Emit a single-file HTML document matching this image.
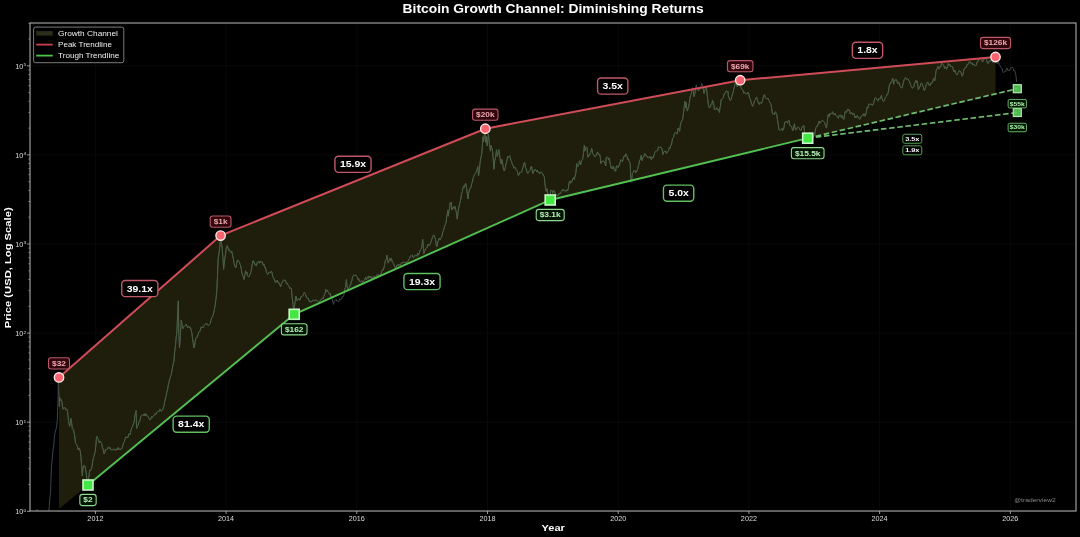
<!DOCTYPE html>
<html><head><meta charset="utf-8"><style>
html,body{margin:0;padding:0;background:#000;}
body{width:1080px;height:537px;overflow:hidden;}
svg{display:block;font-family:"Liberation Sans", sans-serif;filter:blur(0.45px);}
</style></head><body>
<svg width="1080" height="537" viewBox="0 0 1080 537">
<rect width="1080" height="537" fill="#000"/>
<line x1="95.4" y1="23" x2="95.4" y2="511" stroke="#0b0b0b" stroke-width="0.8"/>
<line x1="226.1" y1="23" x2="226.1" y2="511" stroke="#0b0b0b" stroke-width="0.8"/>
<line x1="356.8" y1="23" x2="356.8" y2="511" stroke="#0b0b0b" stroke-width="0.8"/>
<line x1="487.5" y1="23" x2="487.5" y2="511" stroke="#0b0b0b" stroke-width="0.8"/>
<line x1="618.2" y1="23" x2="618.2" y2="511" stroke="#0b0b0b" stroke-width="0.8"/>
<line x1="748.9" y1="23" x2="748.9" y2="511" stroke="#0b0b0b" stroke-width="0.8"/>
<line x1="879.6" y1="23" x2="879.6" y2="511" stroke="#0b0b0b" stroke-width="0.8"/>
<line x1="1010.3" y1="23" x2="1010.3" y2="511" stroke="#0b0b0b" stroke-width="0.8"/>
<line x1="30" y1="511.3" x2="1076" y2="511.3" stroke="#0b0b0b" stroke-width="0.8"/>
<line x1="30" y1="422.2" x2="1076" y2="422.2" stroke="#0b0b0b" stroke-width="0.8"/>
<line x1="30" y1="333.1" x2="1076" y2="333.1" stroke="#0b0b0b" stroke-width="0.8"/>
<line x1="30" y1="244.0" x2="1076" y2="244.0" stroke="#0b0b0b" stroke-width="0.8"/>
<line x1="30" y1="154.9" x2="1076" y2="154.9" stroke="#0b0b0b" stroke-width="0.8"/>
<line x1="30" y1="65.8" x2="1076" y2="65.8" stroke="#0b0b0b" stroke-width="0.8"/>
<defs><clipPath id="ax"><rect x="30" y="23" width="1046" height="488"/></clipPath></defs>
<g clip-path="url(#ax)">
<clipPath id="fc"><polygon points="59.0,377.4 220.6,235.6 485.3,128.7 740.2,80.2 995.5,57.0 995.5,93.8 807.7,138.2 550.2,200.0 294.2,314.3 88.0,485.0 59.0,509.0"/></clipPath>
<polygon points="59.0,377.4 220.6,235.6 485.3,128.7 740.2,80.2 995.5,57.0 995.5,93.8 807.7,138.2 550.2,200.0 294.2,314.3 88.0,485.0 59.0,509.0" fill="#1f1e0d"/>
<polyline points="35.6,515.4 36.4,511.8 37.2,509.4 37.8,510.9 38.4,515.4 39.0,517.6 39.8,515.3 40.6,516.2 41.3,515.4 42.0,515.8 42.8,515.6 43.5,518.1 44.2,517.4 44.9,519.9 45.6,520.0 46.2,520.0 46.9,520.0 47.5,518.3 48.1,515.3 48.7,511.3 49.3,506.4 49.9,497.8 50.5,493.1 51.0,478.7 51.5,466.3 52.3,458.1 53.1,449.0 53.7,445.4 54.3,438.8 54.9,433.3 55.6,430.5 56.2,428.5 56.7,426.1 57.3,420.3 58.0,399.5 58.3,380.2 58.7,391.7 59.1,406.5 59.6,397.4 60.5,400.5 61.2,399.6 61.9,401.9 62.5,406.8 63.2,409.2 63.8,407.7 64.4,407.8 65.1,407.6 65.9,410.0 66.6,408.9 67.3,410.6 68.0,415.7 68.7,422.2 69.6,426.3 70.2,423.5 70.9,418.5 71.6,422.4 72.3,428.5 72.9,429.5 73.6,429.9 74.1,432.9 74.6,434.9 75.5,443.3 76.2,443.8 77.0,445.3 77.6,447.7 78.2,449.8 78.9,447.8 79.6,449.0 80.3,451.3 80.9,456.7 81.6,465.2 82.3,475.8 83.2,466.3 83.9,466.3 84.5,465.1 85.1,467.3 85.7,470.1 86.3,473.9 86.9,479.4 87.5,483.5 88.1,480.3 88.8,477.4 89.3,473.0 89.8,470.1 90.7,470.5 91.5,468.8 92.1,466.1 92.7,461.1 93.3,458.6 93.9,456.5 94.6,453.9 95.2,451.4 95.9,445.1 96.6,436.0 97.3,438.3 97.9,438.9 98.5,439.1 99.1,442.7 99.7,442.0 100.3,441.0 101.0,442.5 101.6,443.3 102.4,447.8 103.2,449.2 104.0,454.0 104.7,452.5 105.4,449.5 106.1,449.8 106.7,449.6 107.4,449.2 108.0,447.8 108.6,446.8 109.4,448.9 110.1,447.6 110.9,449.7 111.6,449.8 112.3,449.9 112.9,449.7 113.5,449.1 114.1,449.0 114.9,450.2 115.6,450.6 116.3,448.9 117.0,449.0 117.6,449.6 118.3,447.4 118.9,449.7 119.5,449.0 120.3,449.0 121.0,449.7 121.8,448.5 122.5,446.8 123.2,444.0 123.8,442.4 124.4,441.5 125.0,438.9 125.8,436.9 126.5,438.1 127.2,436.8 127.9,437.7 128.5,435.1 129.1,433.7 129.8,435.0 130.4,432.8 131.2,429.3 131.9,427.6 132.7,426.0 133.4,424.2 134.1,422.1 134.8,415.9 135.4,413.8 136.1,410.6 136.6,428.5 137.4,426.3 138.2,425.2 139.0,421.4 139.6,421.2 140.2,419.9 140.8,416.4 141.5,415.8 142.2,415.0 142.9,414.3 143.6,415.7 144.3,413.9 144.9,416.0 145.6,413.6 146.2,414.1 146.8,415.8 147.6,415.9 148.3,416.9 149.1,418.9 149.9,419.9 150.5,419.7 151.1,418.0 151.7,416.6 152.4,417.8 153.1,416.5 153.8,415.2 154.5,414.9 155.2,413.6 155.8,414.6 156.5,413.1 157.1,411.8 157.7,411.2 158.5,411.4 159.2,411.5 160.0,409.1 160.8,410.6 161.4,411.3 162.0,410.2 162.6,409.9 163.3,407.8 164.0,405.8 164.8,401.2 165.5,398.1 166.3,395.4 166.9,391.0 167.6,390.1 168.2,385.1 168.8,383.8 169.4,380.0 170.1,378.3 170.7,375.9 171.3,374.8 171.9,371.1 172.6,367.0 173.2,363.6 173.8,362.3 174.4,355.0 175.0,348.8 175.6,344.2 176.2,337.4 176.9,331.6 177.6,314.5 178.3,300.9 178.8,333.1 179.5,348.0 180.4,335.4 181.2,320.1 181.8,323.4 182.4,324.6 183.0,328.7 183.6,327.0 184.3,326.5 185.0,325.7 185.6,325.4 186.4,324.2 187.1,327.0 187.8,327.7 188.5,326.0 189.2,326.9 189.8,328.0 190.5,327.6 191.2,330.1 191.9,333.2 192.5,338.5 193.2,342.7 193.9,348.0 194.5,346.5 195.2,341.4 195.9,338.2 196.6,337.2 197.3,337.5 198.0,334.7 198.7,332.0 199.4,332.0 200.1,330.8 200.8,327.6 201.4,328.1 202.1,326.7 202.8,327.8 203.5,326.7 204.3,325.5 205.0,324.2 205.6,323.5 206.3,324.0 207.0,323.4 207.7,324.8 208.3,325.7 209.0,324.7 209.6,324.5 210.3,323.7 210.9,320.3 211.5,318.2 212.1,317.4 212.9,315.5 213.7,313.0 214.4,309.5 215.2,305.1 216.0,299.0 216.8,290.6 217.5,275.3 218.2,257.8 218.9,254.1 219.7,247.2 220.4,238.6 221.3,242.1 222.2,248.1 222.9,257.7 223.6,269.3 224.2,264.2 224.8,258.9 225.5,254.1 226.2,248.6 226.8,246.0 227.4,245.7 228.0,248.1 228.6,250.3 229.4,249.7 230.1,251.4 230.9,252.6 231.7,251.2 232.5,254.9 233.3,258.9 233.9,262.7 234.6,265.1 235.3,267.3 235.9,267.8 236.7,263.5 237.4,260.1 238.1,260.2 238.7,261.3 239.4,262.2 240.1,264.4 240.7,265.9 241.4,269.9 242.0,273.4 242.7,275.7 243.3,276.9 244.0,279.5 244.8,275.7 245.6,270.8 246.3,273.4 247.0,272.2 247.6,275.8 248.3,276.7 249.0,276.9 249.6,275.1 250.3,273.8 251.0,271.6 251.7,267.9 252.4,263.2 253.1,260.7 253.8,262.8 254.4,262.3 255.0,265.1 255.6,265.1 256.4,265.8 257.1,262.8 257.8,261.9 258.5,261.3 259.1,263.2 259.8,262.7 260.4,261.0 261.0,262.5 261.8,261.6 262.5,262.2 263.3,265.4 264.1,264.4 264.8,267.7 265.6,267.5 266.3,272.2 267.1,273.2 267.7,274.7 268.4,273.4 269.0,272.1 269.6,272.4 270.2,272.8 270.9,271.5 271.5,271.3 272.1,273.2 272.8,277.0 273.5,277.9 274.3,279.5 275.0,281.4 275.6,282.8 276.2,280.7 276.9,282.0 277.5,280.4 278.2,283.2 279.0,282.6 279.8,284.4 280.5,286.9 281.2,284.5 281.8,282.7 282.4,282.4 283.0,280.4 283.8,279.8 284.5,280.6 285.2,279.9 285.9,281.4 286.5,284.0 287.2,283.1 287.8,284.5 288.4,285.7 289.2,286.8 289.9,288.7 290.7,287.7 291.4,288.7 292.2,298.0 293.0,304.3 293.8,312.1 294.4,306.9 295.1,301.5 295.7,296.1 296.4,296.8 297.0,300.9 297.6,300.4 298.3,299.3 298.9,298.5 299.5,300.0 300.1,300.1 300.8,296.9 301.4,297.0 302.0,296.1 302.6,296.0 303.3,294.6 303.9,292.8 304.5,292.6 305.3,294.1 306.0,295.7 306.8,298.0 307.6,298.4 308.2,298.0 308.8,300.5 309.4,300.4 310.1,302.2 310.8,300.9 311.5,302.1 312.2,300.6 312.9,300.0 313.6,300.2 314.2,300.8 314.8,301.3 315.4,299.7 316.2,300.0 317.0,301.1 317.7,301.2 318.5,301.7 319.1,301.3 319.7,301.5 320.4,300.2 321.0,299.9 321.7,299.1 322.4,297.9 323.1,298.7 323.9,296.1 324.5,294.6 325.2,292.9 325.8,289.3 326.6,291.8 327.4,290.2 328.2,291.9 328.8,292.6 329.5,294.4 330.1,293.3 330.8,296.7 331.5,296.4 332.2,298.6 332.8,302.0 333.5,304.4 334.2,301.1 335.0,300.9 335.6,299.9 336.2,299.3 336.8,301.5 337.5,300.9 338.2,301.6 338.9,301.7 339.6,298.8 340.3,299.7 341.0,299.8 341.6,298.9 342.2,296.3 342.8,296.9 343.5,295.9 344.2,293.9 344.8,288.8 345.5,287.5 346.4,279.5 347.0,286.0 347.7,289.3 348.5,288.0 349.3,287.5 349.9,285.4 350.6,285.2 351.2,281.4 351.9,281.0 352.5,277.0 353.1,276.3 353.8,274.9 354.5,275.4 355.3,275.2 356.0,275.1 356.8,276.7 357.4,277.2 358.0,279.8 358.7,278.5 359.3,281.4 360.1,281.9 360.8,281.7 361.6,280.5 362.3,282.5 363.0,281.1 363.6,281.4 364.2,280.3 364.8,279.5 365.5,277.2 366.2,279.8 366.8,278.4 367.5,276.7 368.1,278.7 368.8,275.9 369.4,276.8 370.0,278.0 370.8,276.3 371.5,278.8 372.3,276.9 373.0,277.6 373.7,276.0 374.3,276.8 374.9,278.4 375.5,276.7 376.3,277.4 377.0,274.9 377.7,274.1 378.4,274.9 379.0,276.3 379.7,274.9 380.3,275.3 380.9,274.5 381.7,271.3 382.4,269.6 383.2,270.2 383.9,267.8 384.7,264.4 385.5,259.9 386.2,259.9 387.0,255.1 387.5,259.6 388.0,263.1 388.7,262.4 389.3,259.5 389.9,258.1 390.5,260.9 391.2,258.2 391.8,259.8 392.4,262.6 393.1,262.6 393.7,263.6 394.4,265.9 395.0,267.1 395.8,268.2 396.6,265.4 397.3,265.8 398.1,264.3 398.8,265.7 399.6,264.6 400.4,265.4 401.0,263.4 401.6,263.1 402.2,262.1 402.9,263.1 403.6,262.0 404.3,262.3 405.0,262.2 405.7,262.8 406.3,263.4 407.0,261.3 407.6,261.7 408.2,261.3 409.0,258.8 409.7,258.2 410.5,255.7 411.3,256.2 411.9,255.5 412.5,255.0 413.1,257.8 413.8,257.3 414.5,256.9 415.2,255.1 415.9,255.6 416.6,255.1 417.2,256.3 417.9,253.0 418.5,255.1 419.1,253.6 419.8,251.4 420.5,249.6 421.3,248.8 422.0,245.6 422.7,239.3 423.3,246.1 423.9,253.6 424.7,251.1 425.6,248.5 426.3,247.9 427.0,247.8 427.7,244.8 428.3,244.0 429.0,245.6 429.6,244.9 430.2,244.0 430.8,242.7 431.5,240.1 432.1,238.2 432.7,236.9 433.5,234.9 434.3,236.0 435.0,237.4 435.6,239.9 436.2,245.0 436.8,246.8 437.5,243.0 438.3,241.0 438.9,239.0 439.5,238.0 440.1,239.9 440.8,237.9 441.5,237.4 442.2,234.8 442.9,231.5 443.6,230.4 444.3,227.5 444.9,225.6 445.5,224.2 446.1,222.3 446.7,217.0 447.3,214.0 447.9,210.1 448.3,216.2 448.9,210.9 449.5,208.9 450.1,202.8 450.6,204.2 451.2,202.1 451.7,210.1 452.3,209.3 452.9,207.1 453.5,207.0 454.1,208.7 454.7,206.3 455.3,207.0 455.9,210.6 456.6,213.3 457.2,219.2 458.0,212.7 458.9,207.0 459.5,204.3 460.2,201.7 460.8,199.0 461.5,194.1 462.3,191.4 463.0,187.6 463.7,185.8 464.4,187.6 465.0,184.6 465.7,183.3 466.4,187.1 467.2,193.4 468.0,199.0 468.5,193.5 469.1,191.3 469.7,188.4 470.4,188.1 471.0,187.6 471.7,183.7 472.3,182.0 473.0,178.7 473.7,176.8 474.4,174.7 475.1,174.1 475.9,172.4 476.6,170.4 477.2,169.3 477.8,166.6 478.5,176.0 479.3,170.9 480.0,163.1 480.7,158.8 481.4,155.3 481.9,151.9 482.5,143.7 483.0,136.7 483.6,141.9 484.2,137.2 484.8,129.1 485.7,142.4 486.4,136.7 487.1,146.0 487.8,138.8 488.4,134.1 489.1,140.5 489.7,146.7 490.4,151.2 490.9,145.3 491.6,147.6 492.3,148.8 493.1,157.4 493.9,169.3 494.7,161.2 495.3,158.6 495.9,155.0 496.5,149.8 497.3,156.5 498.1,153.4 498.8,149.5 499.6,155.2 500.3,160.3 501.1,164.0 501.8,159.4 502.4,161.6 503.0,166.4 503.6,169.8 504.5,171.0 505.3,167.3 506.1,163.5 506.9,161.2 507.7,156.5 508.4,157.3 509.0,157.1 509.7,155.7 510.3,157.8 510.9,160.8 511.5,161.2 512.1,163.6 512.7,165.4 513.4,165.4 514.0,168.2 514.7,167.0 515.4,167.9 516.1,169.8 516.8,170.7 517.4,171.1 518.0,175.2 518.7,175.3 519.3,174.0 519.9,172.2 520.7,172.6 521.5,172.2 522.2,170.2 522.9,168.0 523.5,164.9 524.2,162.6 524.9,162.8 525.5,167.7 526.2,168.7 527.0,171.9 527.8,173.4 528.4,172.4 529.1,171.5 529.8,170.4 530.4,169.7 531.1,166.3 531.7,166.6 532.6,173.4 533.3,173.2 533.9,170.5 534.6,170.4 535.2,169.1 535.8,169.9 536.4,171.0 537.0,172.1 537.6,170.5 538.3,172.7 538.9,172.2 539.6,174.0 540.4,172.3 541.2,172.0 541.9,172.5 542.7,173.8 543.5,175.9 544.3,176.7 544.8,182.6 545.3,186.7 546.2,191.3 546.9,188.5 547.7,193.0 548.4,196.6 549.1,198.3 549.8,199.0 550.7,190.4 551.4,190.4 552.0,190.3 552.7,193.4 553.4,190.6 554.1,190.4 554.7,191.5 555.4,194.4 556.0,195.7 556.6,194.6 557.2,195.9 557.9,196.1 558.5,193.8 559.1,193.4 559.7,194.4 560.4,192.3 561.1,192.5 561.8,191.4 562.5,189.4 563.1,190.5 563.8,189.6 564.4,190.9 565.0,191.3 565.7,191.1 566.4,191.0 567.0,189.6 567.7,190.8 568.4,188.1 569.1,182.5 569.9,180.9 570.7,183.2 571.5,181.0 572.2,181.4 572.9,178.7 573.6,177.4 574.3,179.5 575.1,176.0 575.9,172.8 576.7,163.5 577.2,167.1 578.0,166.1 578.8,164.5 579.5,160.7 580.1,162.7 580.6,165.0 581.2,162.3 581.8,160.2 582.4,159.4 583.0,157.4 583.6,152.3 584.4,145.0 584.7,151.2 585.6,148.2 586.2,146.8 586.9,147.5 587.4,152.7 587.9,157.3 588.7,155.0 589.6,155.3 590.2,153.1 590.9,152.4 591.5,148.5 592.1,149.2 592.7,153.7 593.3,154.5 594.1,155.1 594.9,157.0 595.6,156.1 596.4,155.1 597.1,152.6 597.7,152.1 598.4,155.0 599.1,154.0 599.8,154.5 600.3,157.3 600.8,163.5 601.5,161.0 602.1,162.1 602.7,161.3 603.3,160.7 604.1,161.8 604.9,163.0 605.7,166.0 606.2,157.7 606.8,157.1 607.4,157.0 608.0,157.7 608.6,160.1 609.2,158.2 609.8,161.2 610.4,164.6 611.0,167.4 611.6,168.7 612.2,166.6 612.8,168.8 613.4,166.6 614.1,168.8 614.9,170.9 615.7,171.0 616.4,166.0 617.0,165.8 617.6,166.6 618.2,167.6 618.8,165.3 619.4,165.5 620.1,162.1 620.7,159.8 621.3,159.9 621.9,160.8 622.5,161.6 623.1,159.3 623.8,156.9 624.4,155.5 625.1,156.5 625.7,153.8 626.4,154.3 627.1,156.5 627.7,159.6 628.3,158.7 628.9,161.2 629.5,161.5 630.2,163.5 630.9,182.5 631.6,181.7 632.3,173.4 633.0,172.6 633.7,170.7 634.4,171.0 635.1,170.5 635.7,172.6 636.3,172.4 636.9,171.0 637.6,169.4 638.3,166.1 639.0,164.4 639.6,160.3 640.3,159.4 641.1,155.3 641.8,160.7 642.5,159.0 643.2,156.9 643.9,156.8 644.6,153.4 645.3,154.1 646.0,155.8 646.6,155.5 647.2,157.4 647.8,157.3 648.6,158.0 649.3,156.9 650.0,156.3 650.7,158.1 651.3,159.7 651.9,156.8 652.6,158.0 653.2,158.1 654.0,155.3 654.7,152.8 655.5,151.2 656.4,150.9 657.1,150.7 657.7,150.6 658.4,147.0 659.1,146.9 659.8,147.8 660.4,146.8 661.1,148.1 661.8,148.2 662.4,151.0 663.0,154.5 663.7,152.3 664.4,151.3 665.2,151.6 665.8,150.9 666.5,153.7 667.1,152.6 667.9,151.4 668.7,150.2 669.4,147.6 670.0,148.4 670.7,145.3 671.4,145.2 672.0,141.3 672.7,138.3 673.4,137.7 674.1,134.9 674.9,132.8 675.7,132.6 676.4,132.8 677.1,134.1 677.8,128.7 678.4,128.1 679.0,129.6 679.6,131.5 680.2,126.2 680.9,122.7 681.6,121.5 682.3,119.9 682.8,118.2 683.4,113.7 684.1,108.4 684.8,101.3 685.5,107.5 685.9,102.2 686.6,106.4 687.3,111.1 687.9,109.0 688.6,107.5 689.2,103.7 689.8,99.3 690.4,95.8 691.1,94.6 691.9,90.5 692.7,87.6 693.3,90.5 693.9,96.7 694.8,94.2 695.5,88.8 696.3,84.9 697.0,88.7 697.7,87.7 698.4,91.1 699.1,89.7 699.7,88.8 700.4,86.9 701.1,86.4 701.8,83.4 702.5,85.7 703.2,89.2 704.0,93.4 704.7,90.3 705.5,88.7 706.3,86.9 707.0,92.6 707.6,98.3 708.3,104.3 709.0,107.5 709.8,107.8 710.6,104.8 711.2,105.2 711.8,104.4 712.5,100.4 713.1,101.3 713.7,103.6 714.3,109.3 715.1,109.5 715.9,109.6 716.7,107.5 717.3,108.7 718.0,110.3 718.7,109.4 719.4,112.4 720.0,107.7 720.6,105.2 721.1,99.4 721.8,99.5 722.5,98.5 723.2,97.8 723.8,95.0 724.6,93.1 725.4,93.0 726.1,91.1 726.7,90.8 727.3,91.7 728.0,91.1 728.3,95.8 729.1,98.0 729.9,100.4 730.6,100.3 731.2,99.1 731.8,96.8 732.4,94.2 733.1,92.8 733.7,89.3 734.3,87.2 734.9,84.6 735.8,81.9 736.5,82.7 737.1,86.9 737.8,85.9 738.5,82.0 739.2,81.0 739.6,80.7 740.3,85.6 741.0,87.6 741.7,89.1 742.5,89.6 743.2,90.8 743.9,93.4 744.5,92.2 745.2,92.8 745.9,93.8 746.6,93.8 747.3,93.5 748.0,92.2 748.8,94.0 749.6,98.5 750.4,98.9 751.1,102.5 751.9,104.7 752.7,106.4 753.2,104.6 753.7,103.5 754.5,100.6 755.3,99.9 756.1,97.6 756.7,97.2 757.3,99.7 757.9,101.7 758.6,103.2 759.4,104.4 760.2,102.2 760.8,102.8 761.4,103.6 762.0,102.2 762.6,100.2 763.2,97.5 763.8,95.6 764.5,94.6 765.2,97.6 765.9,98.1 766.6,98.7 767.3,98.6 768.0,98.1 768.6,100.3 769.3,100.9 769.9,102.8 770.5,103.2 771.1,104.8 771.7,108.4 772.4,113.7 773.1,114.3 773.8,113.7 774.5,114.8 775.2,111.8 775.9,112.4 776.7,114.4 777.4,119.2 778.1,123.5 779.0,130.1 779.8,129.6 780.5,130.3 781.3,129.5 782.0,128.4 782.7,130.5 783.5,129.5 784.1,126.8 784.7,122.3 785.4,122.3 786.1,121.2 786.9,122.2 787.6,123.3 788.4,120.4 789.2,120.5 789.7,124.4 790.3,126.0 791.0,126.2 791.8,127.2 792.5,130.3 793.3,130.5 793.8,126.3 794.4,123.7 795.1,128.5 795.8,130.1 796.5,129.4 797.2,127.7 797.8,127.1 798.5,127.5 799.2,127.8 799.8,129.3 800.5,130.9 801.2,129.9 802.0,126.9 802.8,126.6 803.4,125.7 804.0,125.6 804.8,137.0 805.5,136.0 806.2,138.8 806.9,137.2 807.5,135.0 808.1,133.7 808.7,134.4 809.3,132.6 810.0,133.5 810.6,135.1 811.2,133.5 811.9,135.3 812.6,135.3 813.4,136.7 814.1,135.4 814.7,134.7 815.3,130.2 816.0,127.4 816.6,126.2 817.2,126.6 817.9,124.7 818.5,122.7 819.2,121.0 819.9,123.3 820.5,122.7 821.2,121.4 821.8,120.6 822.5,120.2 823.1,120.9 823.8,121.7 824.5,122.4 825.1,124.7 825.8,126.2 826.4,128.1 827.1,123.6 827.9,115.8 828.5,114.1 829.1,116.7 829.7,113.7 830.4,114.4 831.1,113.0 831.9,113.8 832.7,111.7 833.2,114.4 833.8,114.8 834.4,114.6 835.1,113.3 835.7,115.1 836.4,115.8 837.0,116.2 837.7,117.5 838.4,118.4 839.1,115.2 839.9,115.2 840.6,115.1 841.3,117.5 842.1,115.5 842.9,118.2 843.8,119.4 844.5,115.1 845.2,111.5 845.9,112.4 846.7,112.1 847.4,109.3 848.1,109.1 848.8,110.6 849.5,110.0 850.2,114.0 851.0,113.4 851.7,112.5 852.4,114.2 853.1,114.7 853.8,113.2 854.4,115.0 855.1,117.9 855.8,116.3 856.5,117.9 857.2,115.5 858.0,117.2 858.8,117.3 859.5,119.4 860.4,118.7 861.2,116.3 861.9,115.4 862.6,115.0 863.3,115.6 863.9,113.5 864.6,115.9 865.2,116.2 865.8,114.4 866.5,111.2 867.2,107.0 868.0,108.0 868.7,104.1 869.4,104.2 870.1,104.6 870.6,104.1 871.2,103.8 872.0,105.3 872.7,105.2 873.5,103.4 874.1,101.1 874.7,98.6 875.3,97.6 875.9,98.1 876.5,99.1 877.1,99.9 877.9,101.2 878.6,98.2 879.4,99.1 880.1,99.0 880.7,97.5 881.4,95.4 882.1,98.7 882.8,100.6 883.5,101.7 884.2,100.8 885.0,98.5 885.7,97.1 886.4,96.4 887.1,94.2 887.8,93.9 888.5,91.1 889.2,86.0 890.0,84.0 890.5,82.5 891.0,83.2 891.8,81.5 892.6,78.0 893.2,80.2 893.7,84.3 894.3,80.4 895.0,79.6 895.8,80.2 896.6,79.7 897.3,82.7 898.0,83.7 898.6,82.4 899.2,82.5 899.9,85.9 900.6,87.2 901.2,87.6 902.0,88.0 902.8,84.9 903.5,82.1 904.1,79.5 904.8,79.1 905.5,77.5 906.3,78.9 907.1,79.6 907.8,78.8 908.6,80.2 909.3,81.1 910.1,83.4 910.8,85.4 911.5,86.8 912.2,87.9 912.8,88.2 913.4,87.4 914.0,86.0 914.6,83.1 915.2,83.1 915.8,80.5 916.5,82.5 917.1,80.7 917.7,84.4 918.3,89.6 919.0,88.6 919.6,86.6 920.3,86.6 920.9,83.3 921.6,83.1 922.2,84.0 922.8,85.8 923.4,87.3 924.1,90.4 924.7,90.1 925.4,87.4 926.0,85.6 926.6,83.7 927.2,82.7 927.8,81.9 928.6,84.9 929.4,84.4 930.1,85.6 930.8,83.2 931.5,83.9 932.2,81.9 932.8,81.7 933.5,78.5 934.1,78.2 934.8,80.7 935.5,75.2 936.2,69.9 937.0,69.2 937.8,66.2 938.5,69.1 939.3,68.9 940.1,66.3 940.8,66.9 941.6,62.8 942.3,63.5 943.0,64.6 943.8,65.7 944.6,68.9 945.3,66.8 946.0,67.0 946.6,69.2 947.1,68.0 947.7,66.1 948.4,63.5 949.0,65.6 949.7,64.1 950.3,65.0 950.9,66.9 951.5,66.0 952.1,66.8 952.8,67.1 953.4,70.1 954.0,71.8 954.7,70.0 955.3,72.5 955.9,73.7 956.5,74.6 957.1,74.9 957.8,72.9 958.5,72.5 959.1,70.7 959.8,71.0 960.4,71.2 961.1,72.7 961.7,75.2 962.3,76.2 962.9,74.8 963.6,71.3 964.2,68.7 964.8,68.6 965.6,67.0 966.3,67.3 967.1,64.5 967.9,64.7 968.6,63.0 969.4,61.7 970.2,61.8 970.8,63.7 971.4,63.7 972.1,62.8 972.7,65.2 973.5,63.9 974.2,65.1 975.0,65.8 975.7,65.8 976.3,65.2 976.9,62.2 977.5,62.5 978.3,59.8 979.0,60.3 979.7,58.1 980.4,58.4 981.0,58.5 981.7,59.2 982.4,62.1 983.1,61.1 983.8,59.3 984.5,59.1 985.2,57.8 985.9,58.3 986.5,59.5 987.2,62.1 987.8,63.6 988.5,62.8 989.2,61.6 990.0,60.2 990.7,61.3 991.5,59.7 992.2,60.0 992.9,62.5 993.5,59.0 994.1,60.5 994.7,57.3 995.4,61.4 996.1,62.1 996.7,63.4 997.3,63.6 997.9,61.2 998.5,60.6 999.2,64.4 999.9,65.4 1000.7,67.1 1001.4,67.8 1002.2,69.0 1003.0,72.5 1003.6,72.4 1004.2,72.3 1004.7,71.4 1005.6,71.6 1006.4,68.8 1007.0,67.9 1007.7,70.3 1008.4,70.0 1009.0,71.0 1009.7,70.1 1010.4,68.0 1011.0,68.4 1011.8,67.1 1012.6,67.4 1013.3,68.6 1013.9,71.2 1014.6,70.7 1015.2,71.7 1015.9,75.4 1016.6,81.9" fill="none" stroke="#3e4646" stroke-width="1.0" stroke-linejoin="round"/>
<polyline points="35.6,515.4 36.4,511.8 37.2,509.4 37.8,510.9 38.4,515.4 39.0,517.6 39.8,515.3 40.6,516.2 41.3,515.4 42.0,515.8 42.8,515.6 43.5,518.1 44.2,517.4 44.9,519.9 45.6,520.0 46.2,520.0 46.9,520.0 47.5,518.3 48.1,515.3 48.7,511.3 49.3,506.4 49.9,497.8 50.5,493.1 51.0,478.7 51.5,466.3 52.3,458.1 53.1,449.0 53.7,445.4 54.3,438.8 54.9,433.3 55.6,430.5 56.2,428.5 56.7,426.1 57.3,420.3 58.0,399.5 58.3,380.2 58.7,391.7 59.1,406.5 59.6,397.4 60.5,400.5 61.2,399.6 61.9,401.9 62.5,406.8 63.2,409.2 63.8,407.7 64.4,407.8 65.1,407.6 65.9,410.0 66.6,408.9 67.3,410.6 68.0,415.7 68.7,422.2 69.6,426.3 70.2,423.5 70.9,418.5 71.6,422.4 72.3,428.5 72.9,429.5 73.6,429.9 74.1,432.9 74.6,434.9 75.5,443.3 76.2,443.8 77.0,445.3 77.6,447.7 78.2,449.8 78.9,447.8 79.6,449.0 80.3,451.3 80.9,456.7 81.6,465.2 82.3,475.8 83.2,466.3 83.9,466.3 84.5,465.1 85.1,467.3 85.7,470.1 86.3,473.9 86.9,479.4 87.5,483.5 88.1,480.3 88.8,477.4 89.3,473.0 89.8,470.1 90.7,470.5 91.5,468.8 92.1,466.1 92.7,461.1 93.3,458.6 93.9,456.5 94.6,453.9 95.2,451.4 95.9,445.1 96.6,436.0 97.3,438.3 97.9,438.9 98.5,439.1 99.1,442.7 99.7,442.0 100.3,441.0 101.0,442.5 101.6,443.3 102.4,447.8 103.2,449.2 104.0,454.0 104.7,452.5 105.4,449.5 106.1,449.8 106.7,449.6 107.4,449.2 108.0,447.8 108.6,446.8 109.4,448.9 110.1,447.6 110.9,449.7 111.6,449.8 112.3,449.9 112.9,449.7 113.5,449.1 114.1,449.0 114.9,450.2 115.6,450.6 116.3,448.9 117.0,449.0 117.6,449.6 118.3,447.4 118.9,449.7 119.5,449.0 120.3,449.0 121.0,449.7 121.8,448.5 122.5,446.8 123.2,444.0 123.8,442.4 124.4,441.5 125.0,438.9 125.8,436.9 126.5,438.1 127.2,436.8 127.9,437.7 128.5,435.1 129.1,433.7 129.8,435.0 130.4,432.8 131.2,429.3 131.9,427.6 132.7,426.0 133.4,424.2 134.1,422.1 134.8,415.9 135.4,413.8 136.1,410.6 136.6,428.5 137.4,426.3 138.2,425.2 139.0,421.4 139.6,421.2 140.2,419.9 140.8,416.4 141.5,415.8 142.2,415.0 142.9,414.3 143.6,415.7 144.3,413.9 144.9,416.0 145.6,413.6 146.2,414.1 146.8,415.8 147.6,415.9 148.3,416.9 149.1,418.9 149.9,419.9 150.5,419.7 151.1,418.0 151.7,416.6 152.4,417.8 153.1,416.5 153.8,415.2 154.5,414.9 155.2,413.6 155.8,414.6 156.5,413.1 157.1,411.8 157.7,411.2 158.5,411.4 159.2,411.5 160.0,409.1 160.8,410.6 161.4,411.3 162.0,410.2 162.6,409.9 163.3,407.8 164.0,405.8 164.8,401.2 165.5,398.1 166.3,395.4 166.9,391.0 167.6,390.1 168.2,385.1 168.8,383.8 169.4,380.0 170.1,378.3 170.7,375.9 171.3,374.8 171.9,371.1 172.6,367.0 173.2,363.6 173.8,362.3 174.4,355.0 175.0,348.8 175.6,344.2 176.2,337.4 176.9,331.6 177.6,314.5 178.3,300.9 178.8,333.1 179.5,348.0 180.4,335.4 181.2,320.1 181.8,323.4 182.4,324.6 183.0,328.7 183.6,327.0 184.3,326.5 185.0,325.7 185.6,325.4 186.4,324.2 187.1,327.0 187.8,327.7 188.5,326.0 189.2,326.9 189.8,328.0 190.5,327.6 191.2,330.1 191.9,333.2 192.5,338.5 193.2,342.7 193.9,348.0 194.5,346.5 195.2,341.4 195.9,338.2 196.6,337.2 197.3,337.5 198.0,334.7 198.7,332.0 199.4,332.0 200.1,330.8 200.8,327.6 201.4,328.1 202.1,326.7 202.8,327.8 203.5,326.7 204.3,325.5 205.0,324.2 205.6,323.5 206.3,324.0 207.0,323.4 207.7,324.8 208.3,325.7 209.0,324.7 209.6,324.5 210.3,323.7 210.9,320.3 211.5,318.2 212.1,317.4 212.9,315.5 213.7,313.0 214.4,309.5 215.2,305.1 216.0,299.0 216.8,290.6 217.5,275.3 218.2,257.8 218.9,254.1 219.7,247.2 220.4,238.6 221.3,242.1 222.2,248.1 222.9,257.7 223.6,269.3 224.2,264.2 224.8,258.9 225.5,254.1 226.2,248.6 226.8,246.0 227.4,245.7 228.0,248.1 228.6,250.3 229.4,249.7 230.1,251.4 230.9,252.6 231.7,251.2 232.5,254.9 233.3,258.9 233.9,262.7 234.6,265.1 235.3,267.3 235.9,267.8 236.7,263.5 237.4,260.1 238.1,260.2 238.7,261.3 239.4,262.2 240.1,264.4 240.7,265.9 241.4,269.9 242.0,273.4 242.7,275.7 243.3,276.9 244.0,279.5 244.8,275.7 245.6,270.8 246.3,273.4 247.0,272.2 247.6,275.8 248.3,276.7 249.0,276.9 249.6,275.1 250.3,273.8 251.0,271.6 251.7,267.9 252.4,263.2 253.1,260.7 253.8,262.8 254.4,262.3 255.0,265.1 255.6,265.1 256.4,265.8 257.1,262.8 257.8,261.9 258.5,261.3 259.1,263.2 259.8,262.7 260.4,261.0 261.0,262.5 261.8,261.6 262.5,262.2 263.3,265.4 264.1,264.4 264.8,267.7 265.6,267.5 266.3,272.2 267.1,273.2 267.7,274.7 268.4,273.4 269.0,272.1 269.6,272.4 270.2,272.8 270.9,271.5 271.5,271.3 272.1,273.2 272.8,277.0 273.5,277.9 274.3,279.5 275.0,281.4 275.6,282.8 276.2,280.7 276.9,282.0 277.5,280.4 278.2,283.2 279.0,282.6 279.8,284.4 280.5,286.9 281.2,284.5 281.8,282.7 282.4,282.4 283.0,280.4 283.8,279.8 284.5,280.6 285.2,279.9 285.9,281.4 286.5,284.0 287.2,283.1 287.8,284.5 288.4,285.7 289.2,286.8 289.9,288.7 290.7,287.7 291.4,288.7 292.2,298.0 293.0,304.3 293.8,312.1 294.4,306.9 295.1,301.5 295.7,296.1 296.4,296.8 297.0,300.9 297.6,300.4 298.3,299.3 298.9,298.5 299.5,300.0 300.1,300.1 300.8,296.9 301.4,297.0 302.0,296.1 302.6,296.0 303.3,294.6 303.9,292.8 304.5,292.6 305.3,294.1 306.0,295.7 306.8,298.0 307.6,298.4 308.2,298.0 308.8,300.5 309.4,300.4 310.1,302.2 310.8,300.9 311.5,302.1 312.2,300.6 312.9,300.0 313.6,300.2 314.2,300.8 314.8,301.3 315.4,299.7 316.2,300.0 317.0,301.1 317.7,301.2 318.5,301.7 319.1,301.3 319.7,301.5 320.4,300.2 321.0,299.9 321.7,299.1 322.4,297.9 323.1,298.7 323.9,296.1 324.5,294.6 325.2,292.9 325.8,289.3 326.6,291.8 327.4,290.2 328.2,291.9 328.8,292.6 329.5,294.4 330.1,293.3 330.8,296.7 331.5,296.4 332.2,298.6 332.8,302.0 333.5,304.4 334.2,301.1 335.0,300.9 335.6,299.9 336.2,299.3 336.8,301.5 337.5,300.9 338.2,301.6 338.9,301.7 339.6,298.8 340.3,299.7 341.0,299.8 341.6,298.9 342.2,296.3 342.8,296.9 343.5,295.9 344.2,293.9 344.8,288.8 345.5,287.5 346.4,279.5 347.0,286.0 347.7,289.3 348.5,288.0 349.3,287.5 349.9,285.4 350.6,285.2 351.2,281.4 351.9,281.0 352.5,277.0 353.1,276.3 353.8,274.9 354.5,275.4 355.3,275.2 356.0,275.1 356.8,276.7 357.4,277.2 358.0,279.8 358.7,278.5 359.3,281.4 360.1,281.9 360.8,281.7 361.6,280.5 362.3,282.5 363.0,281.1 363.6,281.4 364.2,280.3 364.8,279.5 365.5,277.2 366.2,279.8 366.8,278.4 367.5,276.7 368.1,278.7 368.8,275.9 369.4,276.8 370.0,278.0 370.8,276.3 371.5,278.8 372.3,276.9 373.0,277.6 373.7,276.0 374.3,276.8 374.9,278.4 375.5,276.7 376.3,277.4 377.0,274.9 377.7,274.1 378.4,274.9 379.0,276.3 379.7,274.9 380.3,275.3 380.9,274.5 381.7,271.3 382.4,269.6 383.2,270.2 383.9,267.8 384.7,264.4 385.5,259.9 386.2,259.9 387.0,255.1 387.5,259.6 388.0,263.1 388.7,262.4 389.3,259.5 389.9,258.1 390.5,260.9 391.2,258.2 391.8,259.8 392.4,262.6 393.1,262.6 393.7,263.6 394.4,265.9 395.0,267.1 395.8,268.2 396.6,265.4 397.3,265.8 398.1,264.3 398.8,265.7 399.6,264.6 400.4,265.4 401.0,263.4 401.6,263.1 402.2,262.1 402.9,263.1 403.6,262.0 404.3,262.3 405.0,262.2 405.7,262.8 406.3,263.4 407.0,261.3 407.6,261.7 408.2,261.3 409.0,258.8 409.7,258.2 410.5,255.7 411.3,256.2 411.9,255.5 412.5,255.0 413.1,257.8 413.8,257.3 414.5,256.9 415.2,255.1 415.9,255.6 416.6,255.1 417.2,256.3 417.9,253.0 418.5,255.1 419.1,253.6 419.8,251.4 420.5,249.6 421.3,248.8 422.0,245.6 422.7,239.3 423.3,246.1 423.9,253.6 424.7,251.1 425.6,248.5 426.3,247.9 427.0,247.8 427.7,244.8 428.3,244.0 429.0,245.6 429.6,244.9 430.2,244.0 430.8,242.7 431.5,240.1 432.1,238.2 432.7,236.9 433.5,234.9 434.3,236.0 435.0,237.4 435.6,239.9 436.2,245.0 436.8,246.8 437.5,243.0 438.3,241.0 438.9,239.0 439.5,238.0 440.1,239.9 440.8,237.9 441.5,237.4 442.2,234.8 442.9,231.5 443.6,230.4 444.3,227.5 444.9,225.6 445.5,224.2 446.1,222.3 446.7,217.0 447.3,214.0 447.9,210.1 448.3,216.2 448.9,210.9 449.5,208.9 450.1,202.8 450.6,204.2 451.2,202.1 451.7,210.1 452.3,209.3 452.9,207.1 453.5,207.0 454.1,208.7 454.7,206.3 455.3,207.0 455.9,210.6 456.6,213.3 457.2,219.2 458.0,212.7 458.9,207.0 459.5,204.3 460.2,201.7 460.8,199.0 461.5,194.1 462.3,191.4 463.0,187.6 463.7,185.8 464.4,187.6 465.0,184.6 465.7,183.3 466.4,187.1 467.2,193.4 468.0,199.0 468.5,193.5 469.1,191.3 469.7,188.4 470.4,188.1 471.0,187.6 471.7,183.7 472.3,182.0 473.0,178.7 473.7,176.8 474.4,174.7 475.1,174.1 475.9,172.4 476.6,170.4 477.2,169.3 477.8,166.6 478.5,176.0 479.3,170.9 480.0,163.1 480.7,158.8 481.4,155.3 481.9,151.9 482.5,143.7 483.0,136.7 483.6,141.9 484.2,137.2 484.8,129.1 485.7,142.4 486.4,136.7 487.1,146.0 487.8,138.8 488.4,134.1 489.1,140.5 489.7,146.7 490.4,151.2 490.9,145.3 491.6,147.6 492.3,148.8 493.1,157.4 493.9,169.3 494.7,161.2 495.3,158.6 495.9,155.0 496.5,149.8 497.3,156.5 498.1,153.4 498.8,149.5 499.6,155.2 500.3,160.3 501.1,164.0 501.8,159.4 502.4,161.6 503.0,166.4 503.6,169.8 504.5,171.0 505.3,167.3 506.1,163.5 506.9,161.2 507.7,156.5 508.4,157.3 509.0,157.1 509.7,155.7 510.3,157.8 510.9,160.8 511.5,161.2 512.1,163.6 512.7,165.4 513.4,165.4 514.0,168.2 514.7,167.0 515.4,167.9 516.1,169.8 516.8,170.7 517.4,171.1 518.0,175.2 518.7,175.3 519.3,174.0 519.9,172.2 520.7,172.6 521.5,172.2 522.2,170.2 522.9,168.0 523.5,164.9 524.2,162.6 524.9,162.8 525.5,167.7 526.2,168.7 527.0,171.9 527.8,173.4 528.4,172.4 529.1,171.5 529.8,170.4 530.4,169.7 531.1,166.3 531.7,166.6 532.6,173.4 533.3,173.2 533.9,170.5 534.6,170.4 535.2,169.1 535.8,169.9 536.4,171.0 537.0,172.1 537.6,170.5 538.3,172.7 538.9,172.2 539.6,174.0 540.4,172.3 541.2,172.0 541.9,172.5 542.7,173.8 543.5,175.9 544.3,176.7 544.8,182.6 545.3,186.7 546.2,191.3 546.9,188.5 547.7,193.0 548.4,196.6 549.1,198.3 549.8,199.0 550.7,190.4 551.4,190.4 552.0,190.3 552.7,193.4 553.4,190.6 554.1,190.4 554.7,191.5 555.4,194.4 556.0,195.7 556.6,194.6 557.2,195.9 557.9,196.1 558.5,193.8 559.1,193.4 559.7,194.4 560.4,192.3 561.1,192.5 561.8,191.4 562.5,189.4 563.1,190.5 563.8,189.6 564.4,190.9 565.0,191.3 565.7,191.1 566.4,191.0 567.0,189.6 567.7,190.8 568.4,188.1 569.1,182.5 569.9,180.9 570.7,183.2 571.5,181.0 572.2,181.4 572.9,178.7 573.6,177.4 574.3,179.5 575.1,176.0 575.9,172.8 576.7,163.5 577.2,167.1 578.0,166.1 578.8,164.5 579.5,160.7 580.1,162.7 580.6,165.0 581.2,162.3 581.8,160.2 582.4,159.4 583.0,157.4 583.6,152.3 584.4,145.0 584.7,151.2 585.6,148.2 586.2,146.8 586.9,147.5 587.4,152.7 587.9,157.3 588.7,155.0 589.6,155.3 590.2,153.1 590.9,152.4 591.5,148.5 592.1,149.2 592.7,153.7 593.3,154.5 594.1,155.1 594.9,157.0 595.6,156.1 596.4,155.1 597.1,152.6 597.7,152.1 598.4,155.0 599.1,154.0 599.8,154.5 600.3,157.3 600.8,163.5 601.5,161.0 602.1,162.1 602.7,161.3 603.3,160.7 604.1,161.8 604.9,163.0 605.7,166.0 606.2,157.7 606.8,157.1 607.4,157.0 608.0,157.7 608.6,160.1 609.2,158.2 609.8,161.2 610.4,164.6 611.0,167.4 611.6,168.7 612.2,166.6 612.8,168.8 613.4,166.6 614.1,168.8 614.9,170.9 615.7,171.0 616.4,166.0 617.0,165.8 617.6,166.6 618.2,167.6 618.8,165.3 619.4,165.5 620.1,162.1 620.7,159.8 621.3,159.9 621.9,160.8 622.5,161.6 623.1,159.3 623.8,156.9 624.4,155.5 625.1,156.5 625.7,153.8 626.4,154.3 627.1,156.5 627.7,159.6 628.3,158.7 628.9,161.2 629.5,161.5 630.2,163.5 630.9,182.5 631.6,181.7 632.3,173.4 633.0,172.6 633.7,170.7 634.4,171.0 635.1,170.5 635.7,172.6 636.3,172.4 636.9,171.0 637.6,169.4 638.3,166.1 639.0,164.4 639.6,160.3 640.3,159.4 641.1,155.3 641.8,160.7 642.5,159.0 643.2,156.9 643.9,156.8 644.6,153.4 645.3,154.1 646.0,155.8 646.6,155.5 647.2,157.4 647.8,157.3 648.6,158.0 649.3,156.9 650.0,156.3 650.7,158.1 651.3,159.7 651.9,156.8 652.6,158.0 653.2,158.1 654.0,155.3 654.7,152.8 655.5,151.2 656.4,150.9 657.1,150.7 657.7,150.6 658.4,147.0 659.1,146.9 659.8,147.8 660.4,146.8 661.1,148.1 661.8,148.2 662.4,151.0 663.0,154.5 663.7,152.3 664.4,151.3 665.2,151.6 665.8,150.9 666.5,153.7 667.1,152.6 667.9,151.4 668.7,150.2 669.4,147.6 670.0,148.4 670.7,145.3 671.4,145.2 672.0,141.3 672.7,138.3 673.4,137.7 674.1,134.9 674.9,132.8 675.7,132.6 676.4,132.8 677.1,134.1 677.8,128.7 678.4,128.1 679.0,129.6 679.6,131.5 680.2,126.2 680.9,122.7 681.6,121.5 682.3,119.9 682.8,118.2 683.4,113.7 684.1,108.4 684.8,101.3 685.5,107.5 685.9,102.2 686.6,106.4 687.3,111.1 687.9,109.0 688.6,107.5 689.2,103.7 689.8,99.3 690.4,95.8 691.1,94.6 691.9,90.5 692.7,87.6 693.3,90.5 693.9,96.7 694.8,94.2 695.5,88.8 696.3,84.9 697.0,88.7 697.7,87.7 698.4,91.1 699.1,89.7 699.7,88.8 700.4,86.9 701.1,86.4 701.8,83.4 702.5,85.7 703.2,89.2 704.0,93.4 704.7,90.3 705.5,88.7 706.3,86.9 707.0,92.6 707.6,98.3 708.3,104.3 709.0,107.5 709.8,107.8 710.6,104.8 711.2,105.2 711.8,104.4 712.5,100.4 713.1,101.3 713.7,103.6 714.3,109.3 715.1,109.5 715.9,109.6 716.7,107.5 717.3,108.7 718.0,110.3 718.7,109.4 719.4,112.4 720.0,107.7 720.6,105.2 721.1,99.4 721.8,99.5 722.5,98.5 723.2,97.8 723.8,95.0 724.6,93.1 725.4,93.0 726.1,91.1 726.7,90.8 727.3,91.7 728.0,91.1 728.3,95.8 729.1,98.0 729.9,100.4 730.6,100.3 731.2,99.1 731.8,96.8 732.4,94.2 733.1,92.8 733.7,89.3 734.3,87.2 734.9,84.6 735.8,81.9 736.5,82.7 737.1,86.9 737.8,85.9 738.5,82.0 739.2,81.0 739.6,80.7 740.3,85.6 741.0,87.6 741.7,89.1 742.5,89.6 743.2,90.8 743.9,93.4 744.5,92.2 745.2,92.8 745.9,93.8 746.6,93.8 747.3,93.5 748.0,92.2 748.8,94.0 749.6,98.5 750.4,98.9 751.1,102.5 751.9,104.7 752.7,106.4 753.2,104.6 753.7,103.5 754.5,100.6 755.3,99.9 756.1,97.6 756.7,97.2 757.3,99.7 757.9,101.7 758.6,103.2 759.4,104.4 760.2,102.2 760.8,102.8 761.4,103.6 762.0,102.2 762.6,100.2 763.2,97.5 763.8,95.6 764.5,94.6 765.2,97.6 765.9,98.1 766.6,98.7 767.3,98.6 768.0,98.1 768.6,100.3 769.3,100.9 769.9,102.8 770.5,103.2 771.1,104.8 771.7,108.4 772.4,113.7 773.1,114.3 773.8,113.7 774.5,114.8 775.2,111.8 775.9,112.4 776.7,114.4 777.4,119.2 778.1,123.5 779.0,130.1 779.8,129.6 780.5,130.3 781.3,129.5 782.0,128.4 782.7,130.5 783.5,129.5 784.1,126.8 784.7,122.3 785.4,122.3 786.1,121.2 786.9,122.2 787.6,123.3 788.4,120.4 789.2,120.5 789.7,124.4 790.3,126.0 791.0,126.2 791.8,127.2 792.5,130.3 793.3,130.5 793.8,126.3 794.4,123.7 795.1,128.5 795.8,130.1 796.5,129.4 797.2,127.7 797.8,127.1 798.5,127.5 799.2,127.8 799.8,129.3 800.5,130.9 801.2,129.9 802.0,126.9 802.8,126.6 803.4,125.7 804.0,125.6 804.8,137.0 805.5,136.0 806.2,138.8 806.9,137.2 807.5,135.0 808.1,133.7 808.7,134.4 809.3,132.6 810.0,133.5 810.6,135.1 811.2,133.5 811.9,135.3 812.6,135.3 813.4,136.7 814.1,135.4 814.7,134.7 815.3,130.2 816.0,127.4 816.6,126.2 817.2,126.6 817.9,124.7 818.5,122.7 819.2,121.0 819.9,123.3 820.5,122.7 821.2,121.4 821.8,120.6 822.5,120.2 823.1,120.9 823.8,121.7 824.5,122.4 825.1,124.7 825.8,126.2 826.4,128.1 827.1,123.6 827.9,115.8 828.5,114.1 829.1,116.7 829.7,113.7 830.4,114.4 831.1,113.0 831.9,113.8 832.7,111.7 833.2,114.4 833.8,114.8 834.4,114.6 835.1,113.3 835.7,115.1 836.4,115.8 837.0,116.2 837.7,117.5 838.4,118.4 839.1,115.2 839.9,115.2 840.6,115.1 841.3,117.5 842.1,115.5 842.9,118.2 843.8,119.4 844.5,115.1 845.2,111.5 845.9,112.4 846.7,112.1 847.4,109.3 848.1,109.1 848.8,110.6 849.5,110.0 850.2,114.0 851.0,113.4 851.7,112.5 852.4,114.2 853.1,114.7 853.8,113.2 854.4,115.0 855.1,117.9 855.8,116.3 856.5,117.9 857.2,115.5 858.0,117.2 858.8,117.3 859.5,119.4 860.4,118.7 861.2,116.3 861.9,115.4 862.6,115.0 863.3,115.6 863.9,113.5 864.6,115.9 865.2,116.2 865.8,114.4 866.5,111.2 867.2,107.0 868.0,108.0 868.7,104.1 869.4,104.2 870.1,104.6 870.6,104.1 871.2,103.8 872.0,105.3 872.7,105.2 873.5,103.4 874.1,101.1 874.7,98.6 875.3,97.6 875.9,98.1 876.5,99.1 877.1,99.9 877.9,101.2 878.6,98.2 879.4,99.1 880.1,99.0 880.7,97.5 881.4,95.4 882.1,98.7 882.8,100.6 883.5,101.7 884.2,100.8 885.0,98.5 885.7,97.1 886.4,96.4 887.1,94.2 887.8,93.9 888.5,91.1 889.2,86.0 890.0,84.0 890.5,82.5 891.0,83.2 891.8,81.5 892.6,78.0 893.2,80.2 893.7,84.3 894.3,80.4 895.0,79.6 895.8,80.2 896.6,79.7 897.3,82.7 898.0,83.7 898.6,82.4 899.2,82.5 899.9,85.9 900.6,87.2 901.2,87.6 902.0,88.0 902.8,84.9 903.5,82.1 904.1,79.5 904.8,79.1 905.5,77.5 906.3,78.9 907.1,79.6 907.8,78.8 908.6,80.2 909.3,81.1 910.1,83.4 910.8,85.4 911.5,86.8 912.2,87.9 912.8,88.2 913.4,87.4 914.0,86.0 914.6,83.1 915.2,83.1 915.8,80.5 916.5,82.5 917.1,80.7 917.7,84.4 918.3,89.6 919.0,88.6 919.6,86.6 920.3,86.6 920.9,83.3 921.6,83.1 922.2,84.0 922.8,85.8 923.4,87.3 924.1,90.4 924.7,90.1 925.4,87.4 926.0,85.6 926.6,83.7 927.2,82.7 927.8,81.9 928.6,84.9 929.4,84.4 930.1,85.6 930.8,83.2 931.5,83.9 932.2,81.9 932.8,81.7 933.5,78.5 934.1,78.2 934.8,80.7 935.5,75.2 936.2,69.9 937.0,69.2 937.8,66.2 938.5,69.1 939.3,68.9 940.1,66.3 940.8,66.9 941.6,62.8 942.3,63.5 943.0,64.6 943.8,65.7 944.6,68.9 945.3,66.8 946.0,67.0 946.6,69.2 947.1,68.0 947.7,66.1 948.4,63.5 949.0,65.6 949.7,64.1 950.3,65.0 950.9,66.9 951.5,66.0 952.1,66.8 952.8,67.1 953.4,70.1 954.0,71.8 954.7,70.0 955.3,72.5 955.9,73.7 956.5,74.6 957.1,74.9 957.8,72.9 958.5,72.5 959.1,70.7 959.8,71.0 960.4,71.2 961.1,72.7 961.7,75.2 962.3,76.2 962.9,74.8 963.6,71.3 964.2,68.7 964.8,68.6 965.6,67.0 966.3,67.3 967.1,64.5 967.9,64.7 968.6,63.0 969.4,61.7 970.2,61.8 970.8,63.7 971.4,63.7 972.1,62.8 972.7,65.2 973.5,63.9 974.2,65.1 975.0,65.8 975.7,65.8 976.3,65.2 976.9,62.2 977.5,62.5 978.3,59.8 979.0,60.3 979.7,58.1 980.4,58.4 981.0,58.5 981.7,59.2 982.4,62.1 983.1,61.1 983.8,59.3 984.5,59.1 985.2,57.8 985.9,58.3 986.5,59.5 987.2,62.1 987.8,63.6 988.5,62.8 989.2,61.6 990.0,60.2 990.7,61.3 991.5,59.7 992.2,60.0 992.9,62.5 993.5,59.0 994.1,60.5 994.7,57.3 995.4,61.4 996.1,62.1 996.7,63.4 997.3,63.6 997.9,61.2 998.5,60.6 999.2,64.4 999.9,65.4 1000.7,67.1 1001.4,67.8 1002.2,69.0 1003.0,72.5 1003.6,72.4 1004.2,72.3 1004.7,71.4 1005.6,71.6 1006.4,68.8 1007.0,67.9 1007.7,70.3 1008.4,70.0 1009.0,71.0 1009.7,70.1 1010.4,68.0 1011.0,68.4 1011.8,67.1 1012.6,67.4 1013.3,68.6 1013.9,71.2 1014.6,70.7 1015.2,71.7 1015.9,75.4 1016.6,81.9" fill="none" stroke="#4a5e42" stroke-width="1.0" stroke-linejoin="round" clip-path="url(#fc)"/>
<polyline points="59,377.4 220.6,235.6 485.3,128.7 740.2,80.2 995.5,57" fill="none" stroke="#d04c58" stroke-width="2"/>
<polyline points="88,485 294.2,314.3 550.2,200 807.7,138.2" fill="none" stroke="#52c052" stroke-width="1.9"/>
<line x1="807.7" y1="138.2" x2="1017.3" y2="88.7" stroke="#70bc70" stroke-width="1.7" stroke-dasharray="5.6,2.6"/>
<line x1="807.7" y1="138.2" x2="1017.3" y2="112.5" stroke="#70bc70" stroke-width="1.7" stroke-dasharray="5.6,2.6"/>
</g>
<circle cx="59" cy="377.4" r="4.7" fill="#fa6470" stroke="#ffe6e6" stroke-width="1.4"/>
<circle cx="220.6" cy="235.6" r="4.7" fill="#fa6470" stroke="#ffe6e6" stroke-width="1.4"/>
<circle cx="485.3" cy="128.7" r="4.7" fill="#fa6470" stroke="#ffe6e6" stroke-width="1.4"/>
<circle cx="740.2" cy="80.2" r="4.7" fill="#fa6470" stroke="#ffe6e6" stroke-width="1.4"/>
<circle cx="995.5" cy="57" r="4.7" fill="#fa6470" stroke="#ffe6e6" stroke-width="1.4"/>
<rect x="83" y="480" width="10" height="10" fill="#44e844" stroke="#c8f8c8" stroke-width="1.6"/>
<rect x="289.2" y="309.3" width="10" height="10" fill="#44e844" stroke="#c8f8c8" stroke-width="1.6"/>
<rect x="545.2" y="195" width="10" height="10" fill="#44e844" stroke="#c8f8c8" stroke-width="1.6"/>
<rect x="802.7" y="133.2" width="10" height="10" fill="#44e844" stroke="#c8f8c8" stroke-width="1.6"/>
<rect x="1013.3" y="84.7" width="8" height="8" fill="#5ccc5c" fill-opacity="0.9" stroke="#b0e8b0" stroke-width="1.2"/>
<rect x="1013.3" y="108.5" width="8" height="8" fill="#5ccc5c" fill-opacity="0.9" stroke="#b0e8b0" stroke-width="1.2"/>
<rect x="48.51" y="357.80" width="20.99" height="11.2" rx="2.5" fill="#30060c" stroke="#b85868" stroke-width="1.1"/>
<text x="59.00" y="365.84" font-size="6.82" font-weight="bold" fill="#f0a8b0" text-anchor="middle" textLength="13.99" lengthAdjust="spacingAndGlyphs">$32</text>
<rect x="210.21" y="216.00" width="20.78" height="11.2" rx="2.5" fill="#30060c" stroke="#b85868" stroke-width="1.1"/>
<text x="220.60" y="224.04" font-size="6.82" font-weight="bold" fill="#f0a8b0" text-anchor="middle" textLength="13.78" lengthAdjust="spacingAndGlyphs">$1k</text>
<rect x="472.58" y="109.10" width="25.44" height="11.2" rx="2.5" fill="#30060c" stroke="#b85868" stroke-width="1.1"/>
<text x="485.30" y="117.14" font-size="6.82" font-weight="bold" fill="#f0a8b0" text-anchor="middle" textLength="18.44" lengthAdjust="spacingAndGlyphs">$20k</text>
<rect x="727.48" y="60.60" width="25.44" height="11.2" rx="2.5" fill="#30060c" stroke="#b85868" stroke-width="1.1"/>
<text x="740.20" y="68.64" font-size="6.82" font-weight="bold" fill="#f0a8b0" text-anchor="middle" textLength="18.44" lengthAdjust="spacingAndGlyphs">$69k</text>
<rect x="980.45" y="37.40" width="30.10" height="11.2" rx="2.5" fill="#30060c" stroke="#b85868" stroke-width="1.1"/>
<text x="995.50" y="45.44" font-size="6.82" font-weight="bold" fill="#f0a8b0" text-anchor="middle" textLength="23.10" lengthAdjust="spacingAndGlyphs">$126k</text>
<rect x="79.84" y="494.40" width="16.32" height="11.2" rx="2.5" fill="#001400" stroke="#90d890" stroke-width="1.1"/>
<text x="88.00" y="502.44" font-size="6.82" font-weight="bold" fill="#b8f0b8" text-anchor="middle" textLength="9.32" lengthAdjust="spacingAndGlyphs">$2</text>
<rect x="281.38" y="323.70" width="25.65" height="11.2" rx="2.5" fill="#001400" stroke="#90d890" stroke-width="1.1"/>
<text x="294.20" y="331.74" font-size="6.82" font-weight="bold" fill="#b8f0b8" text-anchor="middle" textLength="18.65" lengthAdjust="spacingAndGlyphs">$162</text>
<rect x="536.21" y="209.40" width="27.99" height="11.2" rx="2.5" fill="#001400" stroke="#90d890" stroke-width="1.1"/>
<text x="550.20" y="217.44" font-size="6.82" font-weight="bold" fill="#b8f0b8" text-anchor="middle" textLength="20.99" lengthAdjust="spacingAndGlyphs">$3.1k</text>
<rect x="791.38" y="147.60" width="32.65" height="11.2" rx="2.5" fill="#001400" stroke="#90d890" stroke-width="1.1"/>
<text x="807.70" y="155.64" font-size="6.82" font-weight="bold" fill="#b8f0b8" text-anchor="middle" textLength="25.65" lengthAdjust="spacingAndGlyphs">$15.5k</text>
<rect x="1008.12" y="99.45" width="18.36" height="8.5" rx="1.5" fill="#001800" stroke="#70c070" stroke-width="0.9"/>
<text x="1017.30" y="105.67" font-size="5.50" font-weight="bold" fill="#b0f0b0" text-anchor="middle" textLength="14.86" lengthAdjust="spacingAndGlyphs">$55k</text>
<rect x="1008.12" y="123.25" width="18.36" height="8.5" rx="1.5" fill="#001800" stroke="#70c070" stroke-width="0.9"/>
<text x="1017.30" y="129.47" font-size="5.50" font-weight="bold" fill="#b0f0b0" text-anchor="middle" textLength="14.86" lengthAdjust="spacingAndGlyphs">$30k</text>
<rect x="121.73" y="280.55" width="36.14" height="16.1" rx="3.5" fill="#000" stroke="#c05868" stroke-width="1.4"/>
<text x="139.80" y="291.66" font-size="8.55" font-weight="bold" fill="#ffffff" text-anchor="middle" textLength="26.14" lengthAdjust="spacingAndGlyphs">39.1x</text>
<rect x="334.93" y="156.25" width="36.14" height="16.1" rx="3.5" fill="#000" stroke="#c05868" stroke-width="1.4"/>
<text x="353.00" y="167.36" font-size="8.55" font-weight="bold" fill="#ffffff" text-anchor="middle" textLength="26.14" lengthAdjust="spacingAndGlyphs">15.9x</text>
<rect x="597.55" y="78.05" width="30.30" height="16.1" rx="3.5" fill="#000" stroke="#c05868" stroke-width="1.4"/>
<text x="612.70" y="89.16" font-size="8.55" font-weight="bold" fill="#ffffff" text-anchor="middle" textLength="20.30" lengthAdjust="spacingAndGlyphs">3.5x</text>
<rect x="852.35" y="42.25" width="30.30" height="16.1" rx="3.5" fill="#000" stroke="#c05868" stroke-width="1.4"/>
<text x="867.50" y="53.36" font-size="8.55" font-weight="bold" fill="#ffffff" text-anchor="middle" textLength="20.30" lengthAdjust="spacingAndGlyphs">1.8x</text>
<rect x="173.13" y="416.15" width="36.14" height="16.1" rx="3.5" fill="#000" stroke="#60c060" stroke-width="1.4"/>
<text x="191.20" y="427.26" font-size="8.55" font-weight="bold" fill="#ffffff" text-anchor="middle" textLength="26.14" lengthAdjust="spacingAndGlyphs">81.4x</text>
<rect x="403.93" y="273.55" width="36.14" height="16.1" rx="3.5" fill="#000" stroke="#60c060" stroke-width="1.4"/>
<text x="422.00" y="284.66" font-size="8.55" font-weight="bold" fill="#ffffff" text-anchor="middle" textLength="26.14" lengthAdjust="spacingAndGlyphs">19.3x</text>
<rect x="663.45" y="185.15" width="30.30" height="16.1" rx="3.5" fill="#000" stroke="#60c060" stroke-width="1.4"/>
<text x="678.60" y="196.26" font-size="8.55" font-weight="bold" fill="#ffffff" text-anchor="middle" textLength="20.30" lengthAdjust="spacingAndGlyphs">5.0x</text>
<rect x="902.82" y="134.25" width="18.96" height="9" rx="2" fill="#000" stroke="#50a050" stroke-width="1"/>
<text x="912.30" y="140.90" font-size="6.01" font-weight="bold" fill="#ffffff" text-anchor="middle" textLength="14.26" lengthAdjust="spacingAndGlyphs">3.5x</text>
<rect x="902.82" y="145.80" width="18.96" height="9" rx="2" fill="#000" stroke="#50a050" stroke-width="1"/>
<text x="912.30" y="152.45" font-size="6.01" font-weight="bold" fill="#ffffff" text-anchor="middle" textLength="14.26" lengthAdjust="spacingAndGlyphs">1.9x</text>
<rect x="30" y="23" width="1046" height="488" fill="none" stroke="#bbbbbb" stroke-width="1"/>
<line x1="95.4" y1="511" x2="95.4" y2="514" stroke="#bbbbbb" stroke-width="0.8"/>
<text x="95.40" y="520.80" font-size="6.41" fill="#dddddd" text-anchor="middle" textLength="16.03" lengthAdjust="spacingAndGlyphs">2012</text>
<line x1="226.1" y1="511" x2="226.1" y2="514" stroke="#bbbbbb" stroke-width="0.8"/>
<text x="226.10" y="520.80" font-size="6.41" fill="#dddddd" text-anchor="middle" textLength="16.03" lengthAdjust="spacingAndGlyphs">2014</text>
<line x1="356.8" y1="511" x2="356.8" y2="514" stroke="#bbbbbb" stroke-width="0.8"/>
<text x="356.80" y="520.80" font-size="6.41" fill="#dddddd" text-anchor="middle" textLength="16.03" lengthAdjust="spacingAndGlyphs">2016</text>
<line x1="487.5" y1="511" x2="487.5" y2="514" stroke="#bbbbbb" stroke-width="0.8"/>
<text x="487.50" y="520.80" font-size="6.41" fill="#dddddd" text-anchor="middle" textLength="16.03" lengthAdjust="spacingAndGlyphs">2018</text>
<line x1="618.2" y1="511" x2="618.2" y2="514" stroke="#bbbbbb" stroke-width="0.8"/>
<text x="618.20" y="520.80" font-size="6.41" fill="#dddddd" text-anchor="middle" textLength="16.03" lengthAdjust="spacingAndGlyphs">2020</text>
<line x1="748.9" y1="511" x2="748.9" y2="514" stroke="#bbbbbb" stroke-width="0.8"/>
<text x="748.90" y="520.80" font-size="6.41" fill="#dddddd" text-anchor="middle" textLength="16.03" lengthAdjust="spacingAndGlyphs">2022</text>
<line x1="879.6" y1="511" x2="879.6" y2="514" stroke="#bbbbbb" stroke-width="0.8"/>
<text x="879.60" y="520.80" font-size="6.41" fill="#dddddd" text-anchor="middle" textLength="16.03" lengthAdjust="spacingAndGlyphs">2024</text>
<line x1="1010.3" y1="511" x2="1010.3" y2="514" stroke="#bbbbbb" stroke-width="0.8"/>
<text x="1010.30" y="520.80" font-size="6.41" fill="#dddddd" text-anchor="middle" textLength="16.03" lengthAdjust="spacingAndGlyphs">2026</text>
<line x1="27" y1="511.3" x2="30" y2="511.3" stroke="#bbbbbb" stroke-width="0.8"/>
<text x="23.20" y="514.30" font-size="6.41" fill="#dddddd" text-anchor="end" textLength="8.02" lengthAdjust="spacingAndGlyphs">10</text>
<text x="23.60" y="511.70" font-size="4.38" fill="#dddddd" text-anchor="start" textLength="2.74" lengthAdjust="spacingAndGlyphs">0</text>
<line x1="28.3" y1="484.5" x2="30" y2="484.5" stroke="#aaaaaa" stroke-width="0.6"/>
<line x1="28.3" y1="468.8" x2="30" y2="468.8" stroke="#aaaaaa" stroke-width="0.6"/>
<line x1="28.3" y1="457.7" x2="30" y2="457.7" stroke="#aaaaaa" stroke-width="0.6"/>
<line x1="28.3" y1="449.0" x2="30" y2="449.0" stroke="#aaaaaa" stroke-width="0.6"/>
<line x1="28.3" y1="442.0" x2="30" y2="442.0" stroke="#aaaaaa" stroke-width="0.6"/>
<line x1="28.3" y1="436.0" x2="30" y2="436.0" stroke="#aaaaaa" stroke-width="0.6"/>
<line x1="28.3" y1="430.8" x2="30" y2="430.8" stroke="#aaaaaa" stroke-width="0.6"/>
<line x1="28.3" y1="426.3" x2="30" y2="426.3" stroke="#aaaaaa" stroke-width="0.6"/>
<line x1="27" y1="422.2" x2="30" y2="422.2" stroke="#bbbbbb" stroke-width="0.8"/>
<text x="23.20" y="425.20" font-size="6.41" fill="#dddddd" text-anchor="end" textLength="8.02" lengthAdjust="spacingAndGlyphs">10</text>
<text x="23.60" y="422.60" font-size="4.38" fill="#dddddd" text-anchor="start" textLength="2.74" lengthAdjust="spacingAndGlyphs">1</text>
<line x1="28.3" y1="395.4" x2="30" y2="395.4" stroke="#aaaaaa" stroke-width="0.6"/>
<line x1="28.3" y1="379.7" x2="30" y2="379.7" stroke="#aaaaaa" stroke-width="0.6"/>
<line x1="28.3" y1="368.6" x2="30" y2="368.6" stroke="#aaaaaa" stroke-width="0.6"/>
<line x1="28.3" y1="359.9" x2="30" y2="359.9" stroke="#aaaaaa" stroke-width="0.6"/>
<line x1="28.3" y1="352.9" x2="30" y2="352.9" stroke="#aaaaaa" stroke-width="0.6"/>
<line x1="28.3" y1="346.9" x2="30" y2="346.9" stroke="#aaaaaa" stroke-width="0.6"/>
<line x1="28.3" y1="341.7" x2="30" y2="341.7" stroke="#aaaaaa" stroke-width="0.6"/>
<line x1="28.3" y1="337.2" x2="30" y2="337.2" stroke="#aaaaaa" stroke-width="0.6"/>
<line x1="27" y1="333.1" x2="30" y2="333.1" stroke="#bbbbbb" stroke-width="0.8"/>
<text x="23.20" y="336.10" font-size="6.41" fill="#dddddd" text-anchor="end" textLength="8.02" lengthAdjust="spacingAndGlyphs">10</text>
<text x="23.60" y="333.50" font-size="4.38" fill="#dddddd" text-anchor="start" textLength="2.74" lengthAdjust="spacingAndGlyphs">2</text>
<line x1="28.3" y1="306.3" x2="30" y2="306.3" stroke="#aaaaaa" stroke-width="0.6"/>
<line x1="28.3" y1="290.6" x2="30" y2="290.6" stroke="#aaaaaa" stroke-width="0.6"/>
<line x1="28.3" y1="279.5" x2="30" y2="279.5" stroke="#aaaaaa" stroke-width="0.6"/>
<line x1="28.3" y1="270.8" x2="30" y2="270.8" stroke="#aaaaaa" stroke-width="0.6"/>
<line x1="28.3" y1="263.8" x2="30" y2="263.8" stroke="#aaaaaa" stroke-width="0.6"/>
<line x1="28.3" y1="257.8" x2="30" y2="257.8" stroke="#aaaaaa" stroke-width="0.6"/>
<line x1="28.3" y1="252.6" x2="30" y2="252.6" stroke="#aaaaaa" stroke-width="0.6"/>
<line x1="28.3" y1="248.1" x2="30" y2="248.1" stroke="#aaaaaa" stroke-width="0.6"/>
<line x1="27" y1="244.0" x2="30" y2="244.0" stroke="#bbbbbb" stroke-width="0.8"/>
<text x="23.20" y="247.00" font-size="6.41" fill="#dddddd" text-anchor="end" textLength="8.02" lengthAdjust="spacingAndGlyphs">10</text>
<text x="23.60" y="244.40" font-size="4.38" fill="#dddddd" text-anchor="start" textLength="2.74" lengthAdjust="spacingAndGlyphs">3</text>
<line x1="28.3" y1="217.2" x2="30" y2="217.2" stroke="#aaaaaa" stroke-width="0.6"/>
<line x1="28.3" y1="201.5" x2="30" y2="201.5" stroke="#aaaaaa" stroke-width="0.6"/>
<line x1="28.3" y1="190.4" x2="30" y2="190.4" stroke="#aaaaaa" stroke-width="0.6"/>
<line x1="28.3" y1="181.7" x2="30" y2="181.7" stroke="#aaaaaa" stroke-width="0.6"/>
<line x1="28.3" y1="174.7" x2="30" y2="174.7" stroke="#aaaaaa" stroke-width="0.6"/>
<line x1="28.3" y1="168.7" x2="30" y2="168.7" stroke="#aaaaaa" stroke-width="0.6"/>
<line x1="28.3" y1="163.5" x2="30" y2="163.5" stroke="#aaaaaa" stroke-width="0.6"/>
<line x1="28.3" y1="159.0" x2="30" y2="159.0" stroke="#aaaaaa" stroke-width="0.6"/>
<line x1="27" y1="154.9" x2="30" y2="154.9" stroke="#bbbbbb" stroke-width="0.8"/>
<text x="23.20" y="157.90" font-size="6.41" fill="#dddddd" text-anchor="end" textLength="8.02" lengthAdjust="spacingAndGlyphs">10</text>
<text x="23.60" y="155.30" font-size="4.38" fill="#dddddd" text-anchor="start" textLength="2.74" lengthAdjust="spacingAndGlyphs">4</text>
<line x1="28.3" y1="128.1" x2="30" y2="128.1" stroke="#aaaaaa" stroke-width="0.6"/>
<line x1="28.3" y1="112.4" x2="30" y2="112.4" stroke="#aaaaaa" stroke-width="0.6"/>
<line x1="28.3" y1="101.3" x2="30" y2="101.3" stroke="#aaaaaa" stroke-width="0.6"/>
<line x1="28.3" y1="92.6" x2="30" y2="92.6" stroke="#aaaaaa" stroke-width="0.6"/>
<line x1="28.3" y1="85.6" x2="30" y2="85.6" stroke="#aaaaaa" stroke-width="0.6"/>
<line x1="28.3" y1="79.6" x2="30" y2="79.6" stroke="#aaaaaa" stroke-width="0.6"/>
<line x1="28.3" y1="74.4" x2="30" y2="74.4" stroke="#aaaaaa" stroke-width="0.6"/>
<line x1="28.3" y1="69.9" x2="30" y2="69.9" stroke="#aaaaaa" stroke-width="0.6"/>
<line x1="27" y1="65.8" x2="30" y2="65.8" stroke="#bbbbbb" stroke-width="0.8"/>
<text x="23.20" y="68.80" font-size="6.41" fill="#dddddd" text-anchor="end" textLength="8.02" lengthAdjust="spacingAndGlyphs">10</text>
<text x="23.60" y="66.20" font-size="4.38" fill="#dddddd" text-anchor="start" textLength="2.74" lengthAdjust="spacingAndGlyphs">5</text>
<line x1="28.3" y1="39.0" x2="30" y2="39.0" stroke="#aaaaaa" stroke-width="0.6"/>
<line x1="28.3" y1="23.3" x2="30" y2="23.3" stroke="#aaaaaa" stroke-width="0.6"/>
<text x="553.20" y="13.10" font-size="12.01" font-weight="bold" fill="#ffffff" text-anchor="middle" textLength="301.12" lengthAdjust="spacingAndGlyphs">Bitcoin Growth Channel: Diminishing Returns</text>
<text x="553.20" y="531.20" font-size="9.57" font-weight="bold" fill="#ffffff" text-anchor="middle" textLength="23.30" lengthAdjust="spacingAndGlyphs">Year</text>
<text x="0.00" y="0.00" font-size="9.77" font-weight="bold" fill="#ffffff" text-anchor="middle" textLength="120.86" lengthAdjust="spacingAndGlyphs" transform="translate(10.9,267.8) rotate(-90)">Price (USD, Log Scale)</text>
<text x="1035.00" y="501.50" font-size="6.01" fill="#888888" text-anchor="middle" textLength="41.40" lengthAdjust="spacingAndGlyphs">@traderview2</text>
<rect x="33.6" y="27.1" width="90.2" height="35.6" rx="2" fill="#000" fill-opacity="0.8" stroke="#999999" stroke-width="0.8"/>
<rect x="36.2" y="31.1" width="16.5" height="4.5" fill="#2a2e1a"/>
<line x1="36.2" y1="44.6" x2="52.7" y2="44.6" stroke="#d0404c" stroke-width="1.8"/>
<line x1="36.2" y1="55.6" x2="52.7" y2="55.6" stroke="#4cc44c" stroke-width="1.8"/>
<text x="58.00" y="36.00" font-size="7.59" fill="#f0f0f0" text-anchor="start" textLength="59.92" lengthAdjust="spacingAndGlyphs">Growth Channel</text>
<text x="58.00" y="47.10" font-size="7.59" fill="#f0f0f0" text-anchor="start" textLength="53.89" lengthAdjust="spacingAndGlyphs">Peak Trendline</text>
<text x="58.00" y="58.20" font-size="7.59" fill="#f0f0f0" text-anchor="start" textLength="61.29" lengthAdjust="spacingAndGlyphs">Trough Trendline</text>
</svg>
</body></html>
